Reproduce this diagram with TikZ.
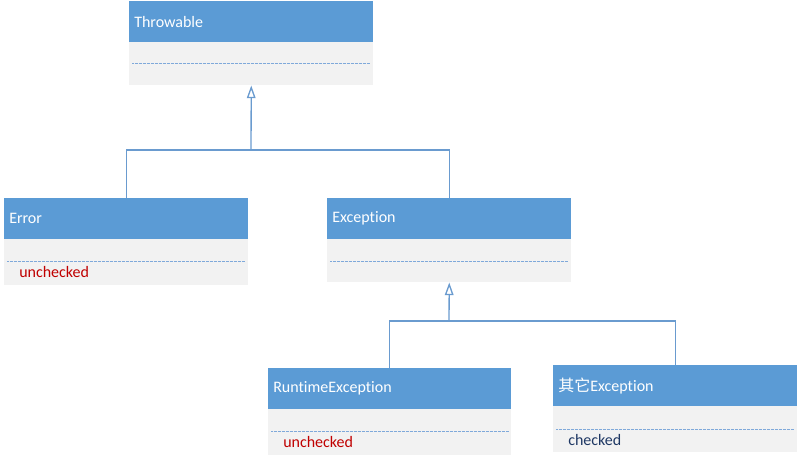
\documentclass[tikz,border=0pt]{standalone}
\usepackage{fontspec}
\setmainfont{Carlito}[Ligatures={NoCommon}]
\newfontfamily\cjk{Noto Sans CJK SC}
\usetikzlibrary{arrows.meta,calc}
\definecolor{hblue}{HTML}{5B9BD5}
\definecolor{bgray}{HTML}{F2F2F2}
\definecolor{lineblue}{HTML}{6A9BCF}
\definecolor{dotblue}{HTML}{7FA9DA}
\definecolor{dred}{HTML}{C00000}
\definecolor{dnavy}{HTML}{1F3864}
\tikzset{
  hdr/.style={fill=hblue, draw=none, anchor=north west, minimum width=#1*0.75pt,
    minimum height=41*0.75pt, text width=#1*0.75pt-7.5pt, inner xsep=3.75pt, inner ysep=0pt,
    align=left, text=white, font=\fontsize{12}{14}\selectfont},
  bdy/.style 2 args={fill=bgray, draw=none, anchor=north west, minimum width=#1*0.75pt,
    minimum height=#2*0.75pt, inner sep=0pt},
  dotln/.style={draw=dotblue, line width=0.6pt, dash pattern=on 0.5pt off 0.5pt},
  bodytext/.style={anchor=west, inner sep=0pt, font=\fontsize{12}{14}\selectfont},
  conn/.style={draw=lineblue, line width=1pt},
  gen/.style={conn, -{Triangle[open, length=9.5pt, width=6.5pt]}}
}
\begin{document}
\begin{tikzpicture}[x=0.75pt, y=-0.75pt]
\useasboundingbox (0,0) rectangle (799,460);
% Throwable
\node[hdr=244] (thrh) at (129,1) {Throwable};
\node[bdy={244}{43}] (thrb) at (129,42) {};
\draw[dotln] ($(thrb.north west)+(3,21)$) -- ($(thrb.north east)+(-3,21)$);
% Error
\node[hdr=244] (errh) at (4,198) {Error};
\node[bdy={244}{46}] (errb) at (4,239) {};
\draw[dotln] ($(errb.north west)+(3,22)$) -- ($(errb.north east)+(-3,22)$);
\node[bodytext, text=dred] (errt) at ($(errb.north west)+(15,33)$) {unchecked};
% Exception
\node[hdr=244] (exch) at (327,198) {Exception};
\node[bdy={244}{43}] (excb) at (327,239) {};
\draw[dotln] ($(excb.north west)+(3,22)$) -- ($(excb.north east)+(-3,22)$);
% RuntimeException
\node[hdr=243] (rth) at (268,368) {RuntimeException};
\node[bdy={243}{46}] (rtb) at (268,409) {};
\draw[dotln] ($(rtb.north west)+(3,22)$) -- ($(rtb.north east)+(-3,22)$);
\node[bodytext, text=dred] (rtt) at ($(rtb.north west)+(15,33)$) {unchecked};
% Other Exception
\node[hdr=244] (oth) at (553,365) {{\cjk 其它}Exception};
\node[bdy={244}{46}] (otb) at (553,406) {};
\draw[dotln] ($(otb.north west)+(3,23)$) -- ($(otb.north east)+(-3,23)$);
\node[bodytext, text=dnavy] (ott) at ($(otb.north west)+(15,34)$) {checked};
% connectors
\coordinate (j1) at (251,150);
\coordinate (j2) at (449,321);
\draw[conn] (errh.north) |- (j1) -| (exch.north);
\draw[gen] (j1) -- (thrb.south);
\draw[conn] (rth.north) |- (j2) -| (oth.north);
\draw[gen] (j2) -- (excb.south);
\end{tikzpicture}
\end{document}
